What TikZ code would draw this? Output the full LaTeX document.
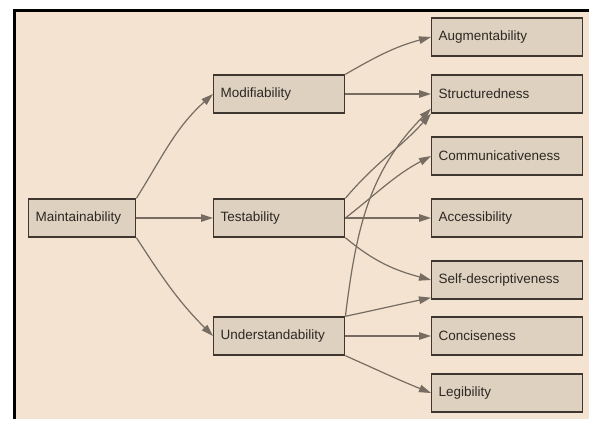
\documentclass[tikz,border=0pt]{standalone}
\usepackage{fontspec}
\setmainfont{Liberation Sans}
\usepackage{xcolor}
\definecolor{paper}{RGB}{243,227,208}
\definecolor{boxfill}{RGB}{222,209,191}
\definecolor{boxline}{RGB}{62,54,47}
\definecolor{arrowgray}{RGB}{118,108,98}
\definecolor{textgray}{RGB}{45,40,36}
\usepackage{tikz}
\usetikzlibrary{arrows.meta}
\newcommand{\widthfactor}{93pt}
\newcommand{\widthcriterion}{117pt}
\newcommand{\widthmetric}{137pt}
\tikzset{
    common/.style={anchor=west, draw=boxline, fill=boxfill, line width=1.4pt, rectangle,
        minimum height=38pt, inner xsep=7pt, align=left, text=textgray,
        font=\fontsize{13.5}{16}\selectfont},
    factor/.style={common, text width=\widthfactor},
    criterion/.style={common, text width=\widthcriterion},
    metric/.style={common, text width=\widthmetric},
    link/.style={-{Triangle[length=12pt, width=7.5pt]}, arrowgray, line width=1.2pt}
}
\begin{document}
\begin{tikzpicture}[x=1pt, y=1pt]
        \useasboundingbox (0,0) rectangle (589,421);
        \fill[white] (0,0) rectangle (589,421);
        \fill[paper] (13,2) rectangle (589,412);
        \draw[black, line width=3pt] (14.5,2) -- (14.5,410.5) -- (589,410.5);

        \path (28,203) node[factor] (maint) {Maintainability};

        \path (213,327) node[criterion] (modif) {Modifiability}
            ++(0,-124) node[criterion] (test) {Testability}
            ++(0,-118) node[criterion] (under) {Understandability};

        \path (431,384) node[metric] (augment) {Augmentability}
            ++(0,-57) node[metric] (struct) {Structuredness}
            ++(0,-62) node[metric] (commun) {Communicativeness}
            ++(0,-62) node[metric] (access) {Accessibility}
            ++(0,-62) node[metric] (selfdesc) {Self-descriptiveness}
            ++(0,-56) node[metric] (concise) {Conciseness}
            ++(0,-57) node[metric] (legib) {Legibility};

        \draw[link] (maint.north east) to[out=58, in=222] (modif.west);
        \draw[link] (maint) -- (test);
        \draw[link] (maint.south east) to[out=-57, in=135] (under.west);

        \draw[link] (modif.north east) to[out=30, in=195] (augment.west);
        \draw[link] (modif) -- (struct);

        \draw[link] (test.north east) to[out=50, in=228] (struct.south west);
        \draw[link] (test.east) to[out=38, in=208] (commun.west);
        \draw[link] (test) -- (access);
        \draw[link] (test.south east) to[out=-40, in=165] (selfdesc.west);

        \draw[link] (under.north east) to[out=83, in=225] ([yshift=5pt]struct.south west);
        \draw[link] (under.north east) to[out=12, in=192] ([yshift=2pt]selfdesc.south west);
        \draw[link] (under) -- (concise);
        \draw[link] (under.south east) to[out=-24, in=158] (legib.west);

    \end{tikzpicture}
\end{document}
